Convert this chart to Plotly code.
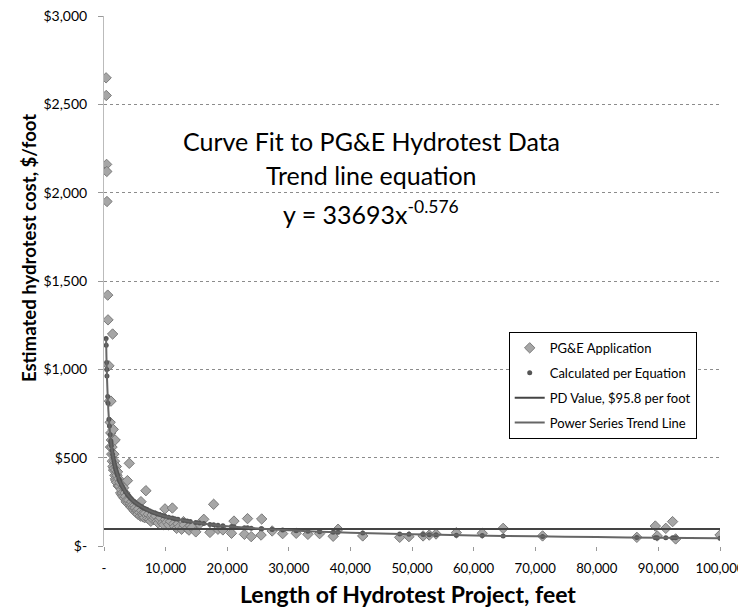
import plotly.graph_objects as go

# PG&E application data (length ft, $/ft)
app_x = [340, 360, 420, 450, 480, 600, 650, 800, 880, 1000, 1050, 1100, 1130, 1200, 1250, 1300,
         1350, 1400, 1450, 1500, 1550, 1600, 1650, 1700, 1750, 1800, 1850, 1900, 1950, 2000,
         2050, 2100, 2200, 2300, 2400, 2500, 2600, 2700, 2800, 2900, 3000, 3100, 3200, 3300,
         3400, 3500, 3600, 3700, 3800, 3900, 4000, 4100, 4200, 4300, 4400, 4500, 4600, 4700,
         4800, 4900, 5000, 5100, 5200, 5300, 5400, 5500, 5600, 5800, 5900, 6000, 6100, 6200,
         6300, 6400, 6500, 6600, 6700, 6800, 7000, 7100, 7200, 7400, 7600, 7700, 7800, 8000,
         8200, 8400, 8600, 8800, 9000, 9200, 9500, 9700, 9900, 10000, 10200, 10500, 10800,
         11100, 11300, 11500, 11800, 12000, 12300, 12600, 12900, 13000, 13500, 13800, 14000,
         14300, 14900, 15500, 16200, 17200, 17800, 18500, 19300, 20700, 21100, 22800, 23300,
         23900, 25500, 25600, 27300, 29000, 31200, 33100, 35000, 37200, 38000, 42000, 48000,
         49500, 51800, 52800, 53900, 57200, 61400, 64800, 71200, 86500, 89500, 89800, 91200,
         92300, 92800, 100000]
app_y = [2650, 2550, 2160, 2120, 1950, 1420, 1280, 1020, 820, 700, 560, 640, 820, 600, 520, 560,
         480, 1200, 450, 660, 430, 520, 440, 480, 400, 600, 380, 430, 370, 450,
         360, 400, 420, 340, 380, 340, 360, 300, 320, 290, 300, 280, 330, 270,
         300, 280, 250, 260, 370, 240, 260, 468, 230, 240, 220, 250, 230, 210,
         220, 200, 230, 215, 190, 200, 205, 180, 210, 190, 170, 251, 200, 180,
         165, 175, 190, 160, 185, 313, 170, 155, 180, 150, 140, 165, 175, 150,
         160, 170, 140, 130, 150, 160, 130, 120, 210, 150, 135, 120, 140,
         215, 125, 110, 100, 125, 110, 95, 138, 120, 100, 90, 115,
         105, 80, 125, 151, 77, 236, 95, 91, 72, 141, 66, 155,
         53, 62, 153, 85, 70, 72, 66, 70, 55, 95, 57, 49,
         53, 57, 62, 68, 75, 72, 100, 57, 49, 113, 57, 100,
         138, 40, 62]

# Calculated per equation y = 33693 x^-0.576 (tabulated values)
calc_x = [340, 360, 420, 450, 480, 600, 650, 800, 880, 1000, 1100, 1130, 1200, 1300, 1400, 1500,
          1600, 1700, 1800, 1900, 2000, 2100, 2200, 2400, 2500, 2600, 2800, 3000, 3200, 3500,
          3800, 4000, 4100, 4300, 4500, 4800, 5000, 5300, 5600, 6000, 6200, 6500, 6800, 7000,
          7400, 7800, 8200, 8600, 9000, 9500, 9900, 10500, 11100, 11500, 12000, 12900, 13500,
          14000, 14900, 15500, 16200, 17200, 17800, 18500, 19300, 20700, 21100, 22800, 23300,
          23900, 25500, 25600, 27300, 29000, 31200, 33100, 35000, 37200, 38000, 42000, 48000,
          49500, 51800, 52800, 53900, 57200, 61400, 64800, 71200, 86500, 89500, 89800, 91200,
          92300, 92800, 100000]
calc_y = [1174, 1136, 1039, 999, 962, 846, 808, 717, 679, 630, 596, 587, 567, 542, 519, 499,
          481, 464, 449, 436, 423, 411, 400, 381, 372, 363, 348, 335, 322, 306,
          292, 284, 280, 272, 265, 255, 249, 241, 234, 225, 220, 214, 209, 206,
          199, 193, 188, 183, 178, 172, 168, 163, 158, 154, 151, 145, 141,
          138, 133, 130, 127, 122, 120, 117, 115, 110, 109, 104, 103,
          101, 98, 97.5, 94, 91, 87, 84, 81, 78.5, 78, 73, 68,
          67, 65, 64, 63, 61, 59, 57, 54, 48, 47, 47, 47,
          46.5, 46, 44]

# Power series trend line
trend_x = [340, 400, 500, 600, 700, 800, 900, 1000, 1200, 1500, 1800, 2000, 2500, 3000, 3500,
           4000, 4500, 5000, 6000, 7000, 8000, 9000, 10000, 12000, 14000, 16000, 18000, 20000,
           25000, 30000, 35000, 40000, 50000, 60000, 70000, 80000, 90000, 100000]
trend_y = [1174, 1068, 940, 846, 774, 717, 670, 630, 567, 499, 449, 423, 372, 335, 306,
           284, 265, 249, 225, 206, 190, 178, 167, 151, 138, 128, 119, 112,
           99, 89, 81, 75, 66, 60, 54.5, 50.5, 47, 44]

# PD value line
pd_x = [0, 100000]
pd_y = [95.8, 95.8]

x_ticks = [0, 10000, 20000, 30000, 40000, 50000, 60000, 70000, 80000, 90000, 100000]
x_labels = ["-", "10,000", "20,000", "30,000", "40,000", "50,000", "60,000", "70,000",
            "80,000", "90,000", "100,000"]
y_ticks = [0, 500, 1000, 1500, 2000, 2500, 3000]
y_labels = ["$-", "$500", "$1,000", "$1,500", "$2,000", "$2,500", "$3,000"]

title_lines = ["Curve Fit to PG&E Hydrotest Data", "Trend line equation",
               "y = 33693x<sup>-0.576</sup>"]

FONT = "Lato, 'Open Sans', sans-serif"

fig = go.Figure()
fig.add_trace(go.Scatter(
    x=app_x, y=app_y, mode="markers", name="PG&E Application", legendgroup="a",
    marker=dict(symbol="diamond", size=8, color="#a6a6a6", line=dict(color="#7a7a7a", width=1))))
fig.add_trace(go.Scatter(
    x=calc_x, y=calc_y, mode="markers", name="Calculated per Equation", legendgroup="b",
    marker=dict(symbol="circle", size=5, color="#555555")))
fig.add_trace(go.Scatter(
    x=pd_x, y=pd_y, mode="lines", name="PD Value, $95.8 per foot", legendgroup="c",
    line=dict(color="#444444", width=2)))
fig.add_trace(go.Scatter(
    x=trend_x, y=trend_y, mode="lines", name="Power Series Trend Line", legendgroup="d",
    line=dict(color="#666666", width=2, shape="spline")))

annos = []
for txt, yy in zip(title_lines, [0.764, 0.700, 0.630]):
    annos.append(dict(text=txt, xref="paper", yref="paper", x=0.434, y=yy,
                      xanchor="center", yanchor="middle", showarrow=False,
                      font=dict(size=25, family=FONT, color="black")))
annos.append(dict(text="<b>Estimated hydrotest cost, $/foot</b>", textangle=-90,
                  xref="paper", yref="paper", x=-0.1218, y=0.562, xanchor="center",
                  yanchor="middle", showarrow=False,
                  font=dict(size=18.6, family=FONT, color="black")))
annos.append(dict(text="<b>Length of Hydrotest Project, feet</b>",
                  xref="paper", yref="paper", x=0.494, y=-0.0906, xanchor="center",
                  yanchor="middle", showarrow=False,
                  font=dict(size=23, family=FONT, color="black")))

fig.update_layout(
    width=746, height=600,
    margin=dict(l=96, r=34, t=8, b=62, autoexpand=False),
    paper_bgcolor="white", plot_bgcolor="white",
    font=dict(family=FONT, size=14, color="black"),
    showlegend=True,
    legend=dict(x=0.657, y=0.404, xanchor="left", yanchor="top",
                bgcolor="white", bordercolor="black", borderwidth=1,
                font=dict(size=13, family=FONT, color="black"),
                traceorder="grouped", tracegroupgap=5),
    xaxis=dict(range=[0, 100000], tickvals=x_ticks, ticktext=x_labels,
               showgrid=False, zeroline=False, showline=False, automargin=False,
               ticklabeloverflow="allow",
               ticks="outside", ticklen=4, tickcolor="#999999",
               ticklabelstandoff=6, tickfont=dict(size=13.2)),
    yaxis=dict(range=[0, 3000], tickvals=y_ticks, ticktext=y_labels,
               showgrid=True, gridcolor="#8c8c8c", griddash="dot", gridwidth=1,
               zeroline=False, showline=True, linecolor="#bbbbbb", linewidth=1,
               automargin=False, ticklabeloverflow="allow",
               ticks="outside", ticklen=5, tickcolor="#999999",
               ticklabelstandoff=8, tickfont=dict(size=14)),
    shapes=[dict(type="rect", xref="paper", yref="paper", x0=0.127, x1=0.817,
                 y0=0.56, y1=0.82, fillcolor="white", line=dict(width=0), layer="between")],
    annotations=annos,
)

fig.write_html("out.html")
